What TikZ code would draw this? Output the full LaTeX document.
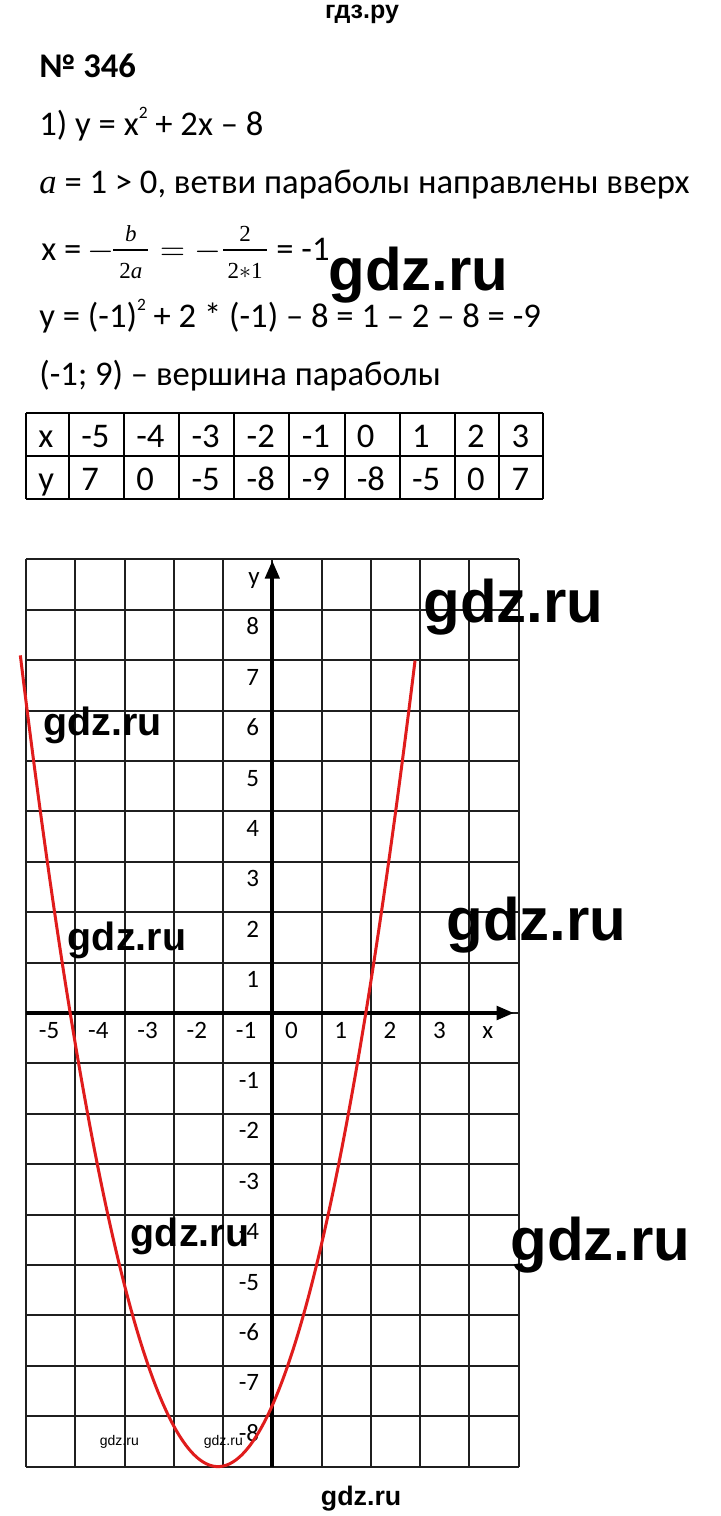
\documentclass[tikz,border=0pt]{standalone}
\usepackage{fontspec}
\setmainfont{Carlito}
\newfontfamily\wmfont{Liberation Sans}
\newfontfamily\frfont{Liberation Serif}
\usetikzlibrary{arrows.meta}
\definecolor{curvered}{RGB}{224,28,28}
\newcommand{\supii}{\raisebox{8.5pt}{\fontsize{8.7}{10}\selectfont 2}}
\begin{document}
\begin{tikzpicture}[x=0.5pt,y=-0.5pt,
  txt/.style={anchor=base west,inner sep=0pt,font=\fontsize{17.3}{20}\selectfont},
  ttl/.style={anchor=base west,inner sep=0pt,font=\bfseries\fontsize{17.3}{20}\selectfont},
  frac/.style={anchor=base,inner sep=0pt,font=\frfont\fontsize{11.5}{13}\selectfont},
  mathsym/.style={anchor=base,inner sep=0pt,font=\fontsize{16}{18}\selectfont},
  fracbar/.style={line width=0.75pt},
  cell/.style={anchor=base west,inner sep=0pt,font=\fontsize{17.3}{20}\selectfont},
  tabline/.style={line width=1pt},
  gridline/.style={line width=1pt,draw=black!88},
  axisline/.style={line width=2pt},
  lbl/.style={inner sep=0pt,font=\fontsize{12.5}{15}\selectfont},
  curve/.style={draw=curvered,line width=1.5pt},
  wmbig/.style={anchor=base west,inner sep=0pt,font=\wmfont\bfseries\fontsize{30}{36}\selectfont},
  wmmid/.style={anchor=base west,inner sep=0pt,font=\wmfont\bfseries\fontsize{19.7}{24}\selectfont},
  wmsmall/.style={anchor=base west,inner sep=0pt,font=\wmfont\fontsize{7}{9}\selectfont},
  wmhead/.style={anchor=base,inner sep=0pt,font=\wmfont\bfseries\fontsize{12.5}{15}\selectfont}
]
\useasboundingbox (0,0) rectangle (720,1516);
\fill[white] (0,0) rectangle (720,1516);

% header
\node[wmhead] (head) at (362,18) {гдз.ру};

% text lines
\node[ttl] (title) at (39,77) {№ 346};
\node[txt] (l1) at (39,135) {1) y = x\supii{} + 2x – 8};
\node[txt] (l2) at (39,193) {{\frfont\itshape a} = 1 > 0, ветви параболы направлены вверх};

% formula line
\node[txt] (fx) at (41,260) {x =};
\node[mathsym] (m1) at (100.8,260) {$-$};
\node[frac] (n1) at (130.8,241.7) {\itshape b};
\draw[fracbar] (113.3,250) -- (148.3,250);
\node[frac] (d1) at (130.8,278.3) {2\itshape a};
\node[mathsym] (e1) at (172.5,260) {$=$};
\node[mathsym] (m2) at (207.5,260) {$-$};
\node[frac] (n2) at (245,241.7) {2};
\draw[fracbar] (223.3,250) -- (266.7,250);
\node[frac] (d2) at (245,278.3) {2$\ast$1};
\node[txt] (fr) at (276,260) {= -1};

\node[txt] (l3) at (39,327) {y = (-1)\supii{} + 2 * (-1) – 8 = 1 – 2 – 8 = -9};
\node[txt] (l4) at (39,385) {(-1; 9) – вершина параболы};

% table
\foreach \yy in {412.7,455.7,499.3} \draw[tabline] (26,\yy) -- (543,\yy);
\foreach \xx in {26,68.9,124,179.1,234.3,289.4,344.5,399.6,454.8,499.3,543}
  \draw[tabline] (\xx,412.7) -- (\xx,499.3);
\foreach \xx/\a/\b [count=\i] in {26/x/y,68.9/-5/7,124/-4/0,179.1/-3/-5,234.3/-2/-8,289.4/-1/-9,344.5/0/-8,399.6/1/-5,454.8/2/0,499.3/3/7}{
  \node[cell] (tx\i) at (\xx+12,447) {\a};
  \node[cell] (ty\i) at (\xx+12,490) {\b};
}

% grid
\foreach \i in {0,...,10} \draw[gridline] ({26+49.27*\i},559.3) -- ({26+49.27*\i},1466.6);
\foreach \j in {0,...,18} \draw[gridline] (26,{559.3+50.4*\j}) -- (518.7,{559.3+50.4*\j});

% axes
\coordinate (yb) at (272.3,1466.6);
\coordinate (yt) at (272.3,560.5);
\coordinate (xl) at (26,1013);
\coordinate (xr) at (514,1013);
\draw[axisline,-{Triangle[length=9pt,width=7pt]}] (yb) -- (yt);
\draw[axisline,-{Triangle[length=8.7pt,width=6.7pt]}] (xl) -- (xr);

% axis labels
\foreach \k in {-5,...,3}
  \node[lbl,anchor=base west] (xlab\k) at ({272.3+49.27*\k+12.5},1038) {\k};
\node[lbl,anchor=base west] (xname) at ({272.3+49.27*4+12.5},1038) {x};
\foreach \k in {-8,...,-1,1,2,...,8}
  \node[lbl,anchor=base east] (ylab\k) at (259.5,{1013-50.4*\k+25}) {\k};
\node[lbl,anchor=base east] (yname) at (260,584) {y};

% parabola
\draw[curve] plot[domain=-4.012:4.0,samples=120,smooth] ({218+49.27*\x},{1466.6-50.4*\x*\x});

% watermarks
\node[wmbig] (w1) at (328,290) {gdz.ru};
\node[wmbig] (w2) at (423,622) {gdz.ru};
\node[wmbig] (w5) at (446,940) {gdz.ru};
\node[wmbig] (w7) at (510,1260) {gdz.ru};
\node[wmmid] (w3) at (43,735) {gdz.ru};
\node[wmmid] (w4) at (67.5,950) {gdz.ru};
\node[wmmid] (w6) at (130.5,1246.7) {gdz.ru};
\node[wmsmall] (w8) at (99.5,1445) {gdz.ru};
\node[wmsmall] (w9) at (203.5,1445) {gdz.ru};
\node[wmbig,font=\wmfont\bfseries\fontsize{13.4}{16}\selectfont] (w10) at (320.5,1505) {gdz.ru};
\end{tikzpicture}
\end{document}
